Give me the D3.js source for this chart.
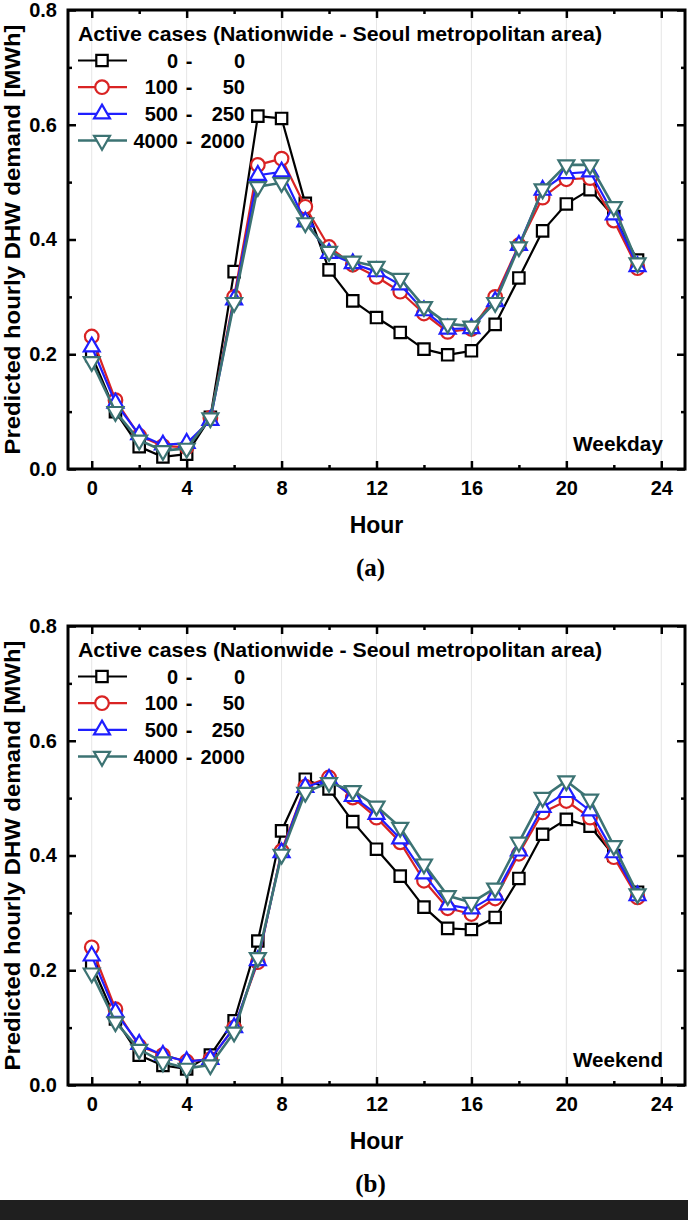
<!DOCTYPE html>
<html>
<head>
<meta charset="utf-8">
<script src="https://cdn.jsdelivr.net/npm/d3@7"></script>
<style>
  html, body { margin: 0; padding: 0; background: #fff; }
  svg { display: block; }
  text { font-family: "Liberation Sans", Arial, sans-serif; font-weight: bold; fill: #000; }
</style>
</head>
<body>
<svg id="chart" width="688" height="1220"></svg>
<script>
// ---------------- DATA ----------------
const hours = [0,1,2,3,4,5,6,7,8,9,10,11,12,13,14,15,16,17,18,19,20,21,22,23];

const seriesNamesA = ["0", "100", "500", "4000"];   // Nationwide
const seriesNamesB = ["0", "50", "250", "2000"];    // Seoul metropolitan area
const legendTitle = "Active cases (Nationwide - Seoul metropolitan area)";

// Weekday
const weekday0    = [0.198,0.100,0.039,0.021,0.026,0.090,0.344,0.615,0.611,0.463,0.347,0.293,0.264,0.238,0.209,0.199,0.206,0.252,0.333,0.415,0.462,0.487,0.440,0.364];
const weekday100  = [0.231,0.120,0.058,0.040,0.038,0.089,0.300,0.530,0.541,0.457,0.387,0.356,0.335,0.309,0.271,0.239,0.244,0.300,0.390,0.473,0.505,0.507,0.433,0.350];
const weekday500  = [0.213,0.115,0.060,0.042,0.045,0.085,0.295,0.512,0.518,0.431,0.376,0.358,0.344,0.321,0.276,0.244,0.245,0.292,0.390,0.486,0.515,0.518,0.443,0.353];
const weekday4000 = [0.187,0.100,0.050,0.032,0.036,0.089,0.290,0.492,0.499,0.429,0.379,0.362,0.353,0.332,0.283,0.253,0.249,0.290,0.387,0.488,0.530,0.530,0.457,0.359];

// Weekend
const weekend0    = [0.210,0.115,0.052,0.034,0.028,0.052,0.112,0.251,0.443,0.533,0.516,0.459,0.411,0.364,0.310,0.273,0.271,0.292,0.360,0.437,0.463,0.451,0.400,0.336];
const weekend100  = [0.240,0.132,0.068,0.052,0.041,0.045,0.100,0.214,0.408,0.520,0.536,0.501,0.466,0.423,0.356,0.308,0.298,0.325,0.403,0.475,0.495,0.466,0.397,0.327];
const weekend500  = [0.225,0.127,0.071,0.052,0.041,0.045,0.100,0.217,0.405,0.519,0.533,0.503,0.472,0.429,0.368,0.314,0.307,0.331,0.408,0.484,0.510,0.478,0.405,0.330];
const weekend4000 = [0.195,0.110,0.062,0.040,0.029,0.035,0.092,0.222,0.402,0.510,0.527,0.513,0.486,0.449,0.385,0.330,0.318,0.343,0.423,0.501,0.530,0.498,0.417,0.333];

const xTicks = [0,4,8,12,16,20,24];
const xMinorTicks = [2,6,10,14,18,22];
const yTicks = [0.0,0.2,0.4,0.6,0.8];
const yMinorTicks = [0.1,0.3,0.5,0.7];

const panels = [
  { label: "Weekday", caption: "(a)", series: [weekday0, weekday100, weekday500, weekday4000] },
  { label: "Weekend", caption: "(b)", series: [weekend0, weekend100, weekend500, weekend4000] }
];

// ---------------- STYLE ----------------
const colors = ["#000000", "#d92323", "#1f1fff", "#3c7373"];
const symbols = ["square", "circle", "triangle", "triangleDown"];

const svg = d3.select("#chart");
const L = 68, R = 685, T = 10, B = 469;
const panelOffset = 616;

const x = d3.scaleLinear().domain([-1, 25]).range([L, R]);
const y = d3.scaleLinear().domain([0, 0.8]).range([B, T]);

function symbolPath(kind) {
  if (kind === "square") return d3.symbol(d3.symbolSquare, 130)();
  if (kind === "circle") return d3.symbol(d3.symbolCircle, 145)();
  return d3.symbol(d3.symbolTriangle, 110)();
}
function drawMarker(g, kind, cx, cy, color) {
  const rot = kind === "triangleDown" ? 180 : 0;
  g.append("path")
    .attr("d", symbolPath(kind))
    .attr("transform", `translate(${cx},${cy}) rotate(${rot})`)
    .attr("fill", "#fff")
    .attr("stroke", color)
    .attr("stroke-width", 2.2);
}

panels.forEach((p, pi) => {
  const g = svg.append("g").attr("transform", `translate(0,${pi * panelOffset})`);

  // gridlines
  g.append("g").selectAll("line").data(xTicks).join("line")
    .attr("x1", d => x(d)).attr("x2", d => x(d))
    .attr("y1", T).attr("y2", B)
    .attr("stroke", "#e6e6e6").attr("stroke-width", 1);

  // axes (ticks inside)
  g.append("g").attr("transform", `translate(0,${B})`)
    .call(d3.axisBottom(x).tickValues(xTicks).tickSize(-8).tickPadding(12).tickFormat(d3.format("d")));
  g.append("g").attr("transform", `translate(0,${B})`)
    .call(d3.axisBottom(x).tickValues(xMinorTicks).tickSize(-4).tickFormat(""));
  g.append("g").attr("transform", `translate(0,${T})`)
    .call(d3.axisTop(x).tickValues(xTicks).tickSize(-8).tickFormat(""));
  g.append("g").attr("transform", `translate(0,${T})`)
    .call(d3.axisTop(x).tickValues(xMinorTicks).tickSize(-4).tickFormat(""));
  g.append("g").attr("transform", `translate(${L},0)`)
    .call(d3.axisLeft(y).tickValues(yTicks).tickSize(-8).tickPadding(11).tickFormat(d3.format(".1f")));
  g.append("g").attr("transform", `translate(${L},0)`)
    .call(d3.axisLeft(y).tickValues(yMinorTicks).tickSize(-4).tickFormat(""));
  g.append("g").attr("transform", `translate(${R},0)`)
    .call(d3.axisRight(y).tickValues(yTicks).tickSize(-8).tickFormat(""));
  g.append("g").attr("transform", `translate(${R},0)`)
    .call(d3.axisRight(y).tickValues(yMinorTicks).tickSize(-4).tickFormat(""));

  g.selectAll(".domain").remove();
  g.selectAll(".tick line").attr("stroke", "#000").attr("stroke-width", 2.5);
  g.selectAll(".tick text").attr("font-family", '"Liberation Sans", Arial, sans-serif')
    .attr("font-weight", "bold").attr("font-size", 20).attr("fill", "#000");

  // frame
  g.append("rect").attr("x", L).attr("y", T).attr("width", R - L).attr("height", B - T)
    .attr("fill", "none").attr("stroke", "#000").attr("stroke-width", 3);

  // series
  p.series.forEach((vals, si) => {
    const sg = g.append("g");
    const line = d3.line().x((d, i) => x(hours[i])).y(d => y(d));
    sg.append("path").datum(vals).attr("d", line)
      .attr("fill", "none").attr("stroke", colors[si])
      .attr("stroke-width", si === 3 ? 2.6 : 2.2).attr("stroke-linejoin", "round");
    vals.forEach((v, i) => drawMarker(sg, symbols[si], x(hours[i]), y(v), colors[si]));
  });

  // legend
  g.append("text").attr("x", 78).attr("y", T + 30.5)
    .attr("font-size", 21).attr("textLength", 524).attr("lengthAdjust", "spacingAndGlyphs")
    .text(legendTitle);
  const rowY = [50.5, 77.2, 103.8, 130.5];
  seriesNamesA.forEach((a, si) => {
    const cy = T + rowY[si];
    const lg = g.append("g");
    lg.append("line").attr("x1", 78).attr("x2", 127).attr("y1", cy).attr("y2", cy)
      .attr("stroke", colors[si]).attr("stroke-width", si === 3 ? 2.6 : 2.2);
    drawMarker(lg, symbols[si], 102, cy, colors[si]);
    lg.append("text").attr("x", 178).attr("y", cy + 7).attr("font-size", 20)
      .attr("text-anchor", "end").text(a);
    lg.append("text").attr("x", 189).attr("y", cy + 7).attr("font-size", 20)
      .attr("text-anchor", "middle").text("-");
    lg.append("text").attr("x", 245).attr("y", cy + 7).attr("font-size", 20)
      .attr("text-anchor", "end").text(seriesNamesB[si]);
  });

  // panel label
  g.append("text").attr("x", 663).attr("y", 451).attr("font-size", 20)
    .attr("text-anchor", "end").attr("textLength", 90).attr("lengthAdjust", "spacingAndGlyphs")
    .text(p.label);

  // axis titles
  g.append("text").attr("x", (L + R) / 2).attr("y", 533).attr("font-size", 23)
    .attr("text-anchor", "middle").text("Hour");
  g.append("text").attr("transform", `translate(20,${(T + B) / 2}) rotate(-90)`)
    .attr("font-size", 22).attr("text-anchor", "middle")
    .attr("textLength", 430).attr("lengthAdjust", "spacingAndGlyphs")
    .text("Predicted hourly DHW demand [MWh]");

  // caption
  g.append("text").attr("x", 370.5).attr("y", 576).attr("font-size", 25)
    .attr("text-anchor", "middle")
    .style("font-family", '"Liberation Serif", "Times New Roman", serif')
    .text(p.caption);
});

// bottom bar
svg.append("rect").attr("x", 0).attr("y", 1200).attr("width", 688).attr("height", 20).attr("fill", "#1f1f1f");
</script>
</body>
</html>
